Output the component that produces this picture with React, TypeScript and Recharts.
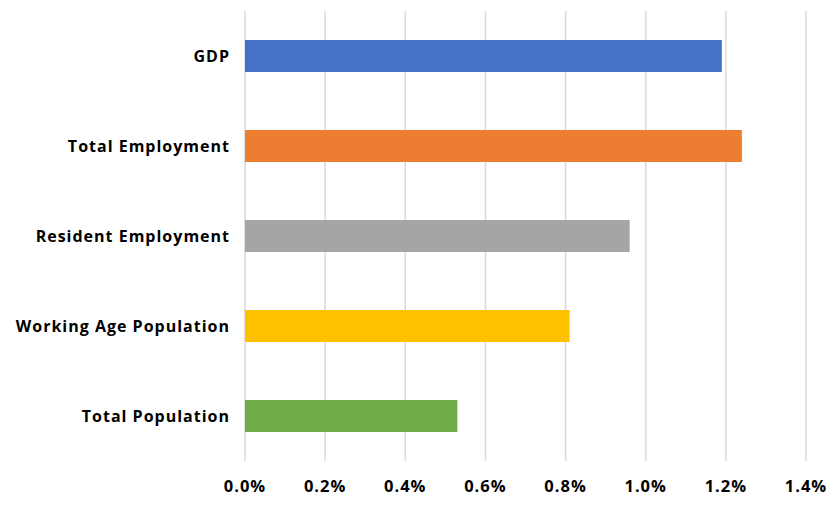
import { BarChart, Bar, XAxis, YAxis, CartesianGrid, Cell } from "recharts";

const categories = [
  "GDP",
  "Total Employment",
  "Resident Employment",
  "Working Age Population",
  "Total Population",
];
const growth = [1.19, 1.24, 0.96, 0.81, 0.53];
const xTicks = [0, 0.2, 0.4, 0.6, 0.8, 1.0, 1.2, 1.4];

const COLORS = ["#4472C4", "#ED7D31", "#A5A5A5", "#FFC000", "#70AD47"];

const data = categories.map((name, i) => ({ name, value: growth[i] }));

const font = {
  fill: "#000000",
  fontSize: 16,
  fontWeight: 700,
  letterSpacing: 1,
  fontFamily: "'Open Sans', sans-serif",
};

export default function App() {
  return (
    <div style={{ position: "absolute", left: 0, top: 0, background: "#fff" }}>
      <BarChart
        width={827}
        height={506}
        data={data}
        layout="vertical"
        margin={{ top: 11, right: 21, left: 0, bottom: 0 }}
        barCategoryGap={29}
      >
        <CartesianGrid horizontal={false} stroke="#d9d9d9" strokeWidth={1.5} />
        <XAxis
          type="number"
          domain={[0, 1.4]}
          ticks={xTicks}
          tickFormatter={(v: number) => v.toFixed(1) + "%"}
          axisLine={false}
          tickLine={false}
          tickSize={0}
          tickMargin={19}
          height={45}
          tick={{ ...font, fontSize: 16.5 }}
          interval={0}
        />
        <YAxis
          type="category"
          dataKey="name"
          width={245}
          axisLine={false}
          tickLine={false}
          tickSize={0}
          tickMargin={15}
          tick={font}
          interval={0}
        />
        <Bar dataKey="value" isAnimationActive={false}>
          {data.map((_, i) => (
            <Cell key={`cell-${i}`} fill={COLORS[i]} />
          ))}
        </Bar>
      </BarChart>
    </div>
  );
}
